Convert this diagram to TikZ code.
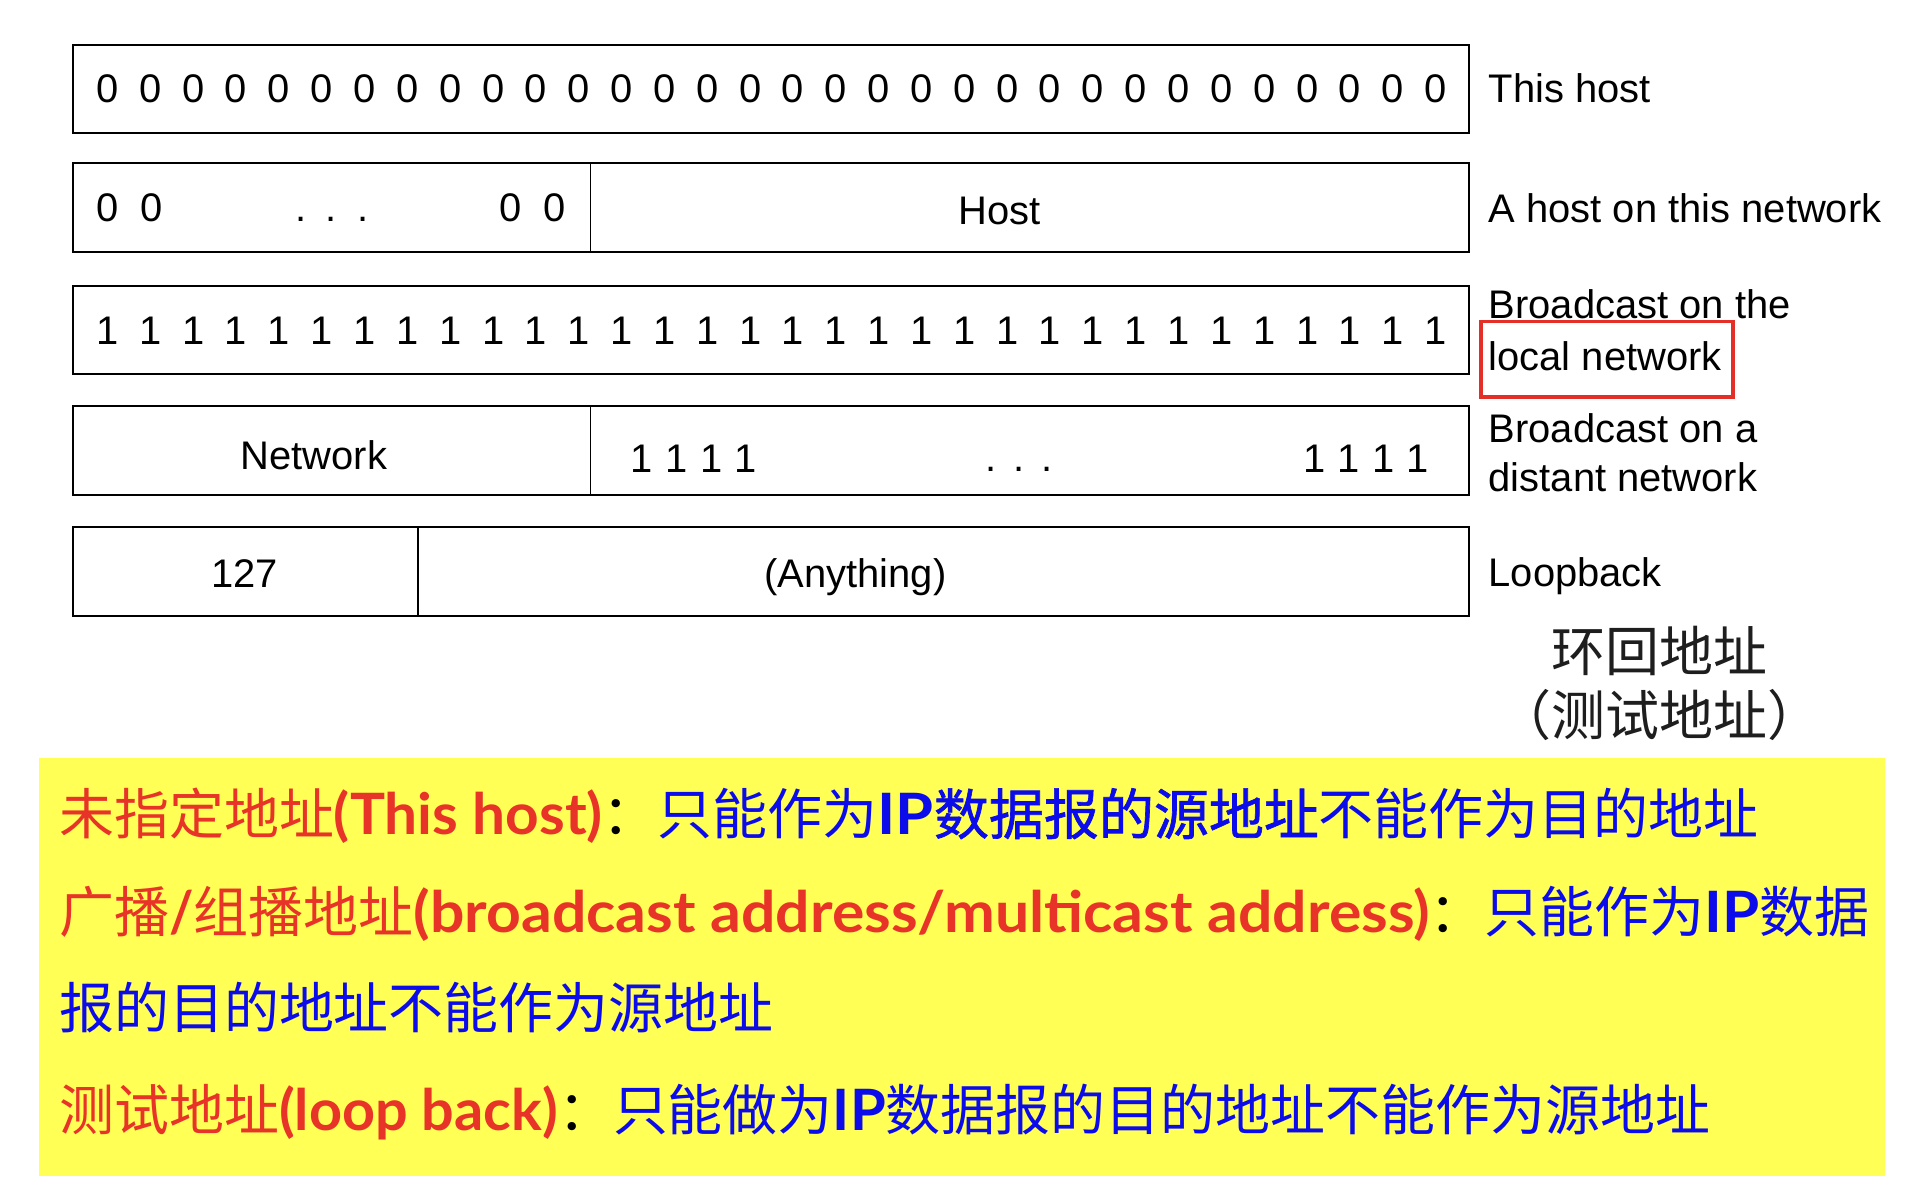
\documentclass[tikz,border=0pt]{standalone}
\usepackage{fontspec}
\setmainfont{Liberation Sans}
\newfontfamily\cjk{Noto Sans CJK SC}
\newfontfamily\cjksemi[FakeBold=1.2]{Noto Sans CJK SC}
\newfontfamily\lat{Lato}
\definecolor{hlred}{RGB}{232,52,40}
\definecolor{hlblue}{RGB}{12,12,235}
\definecolor{hlyellow}{RGB}{255,255,85}
\definecolor{boxred}{RGB}{228,46,40}
\definecolor{inkgray}{RGB}{30,30,30}
\newcommand{\redlat}[2]{{\color{hlred}\resizebox{#1}{\height}{\lat\bfseries\fontsize{28}{32}\selectfont #2}}}
\newcommand{\ipbold}[1]{{\color{hlblue}\resizebox{#1}{\height}{\lat\bfseries\fontsize{28}{32}\selectfont IP}}}
\newcommand{\blk}[1]{{\color{black}#1}}
\begin{document}
\begin{tikzpicture}[x=0.6pt,y=-0.6pt,
  field/.style={draw=black, line width=1pt},
  sep/.style={draw=black, line width=0.6pt},
  bit/.style={font=\fontsize{19.6}{22}\selectfont, anchor=base, inner sep=0pt},
  lbl/.style={font=\fontsize{19.6}{22}\selectfont, anchor=base west, inner sep=0pt},
  cjkline/.style={font=\cjk\fontsize{27}{32}\selectfont, anchor=base west, inner sep=0pt},
  cjknote/.style={font=\cjk\fontsize{26.5}{30}\selectfont, text=inkgray, inner sep=0pt},
]
\useasboundingbox (0,0) rectangle (1568,980);
\fill[white] (0,0) rectangle (1568,980);

% Row 1: This host
\draw[field] (60,37) rectangle (1202,109);
\foreach \i in {0,...,31} \node[bit] (z\i) at ({88+\i*35.06},84) {0};

% Row 2: A host on this network
\draw[field] (60,133) rectangle (1202,206);
\draw[sep] (483,133) -- (483,206);
\node[bit] (h0a) at (88,181) {0};
\node[bit] (h0b) at (124,181) {0};
\node[bit] (hd1) at (246,181) {.};
\node[bit] (hd2) at (271,181) {.};
\node[bit] (hd3) at (297,181) {.};
\node[bit] (h0c) at (418,181) {0};
\node[bit] (h0d) at (454,181) {0};
\node[bit] (host) at (818,184) {Host};

% Row 3: broadcast local
\draw[field] (60,234) rectangle (1202,306);
\foreach \i in {0,...,31} \node[bit] (o\i) at ({88+\i*35.06},282) {1};

% Row 4: broadcast distant
\draw[field] (60,332) rectangle (1202,405);
\draw[sep] (483,332) -- (483,405);
\node[bit] (net) at (257,384) {Network};
\foreach \i in {0,...,3} \node[bit] (nl\i) at ({525+\i*28.5},387) {1};
\node[bit] (nd1) at (811,386) {.};
\node[bit] (nd2) at (834,386) {.};
\node[bit] (nd3) at (857,386) {.};
\foreach \i in {0,...,3} \node[bit] (nr\i) at ({1076+\i*28},387) {1};

% Row 5: loopback
\draw[field] (60,431) rectangle (1202,504);
\draw[sep] (342,431) -- (342,504);
\node[bit] (lp127) at (200,481) {127};
\node[bit] (lpany) at (700,481) {(Anything)};

% Right labels
\node[lbl] (l1) at (1218,84) {This host};
\node[lbl] (l2) at (1218,182) {A host on this network};
\node[lbl] (l3a) at (1218,261) {Broadcast on the};
\node[lbl] (l3b) at (1218,303) {local network};
\node[lbl] (l4a) at (1218,362) {Broadcast on a};
\node[lbl] (l4b) at (1218,402) {distant network};
\node[lbl] (l5) at (1218,480) {Loopback};
\draw[boxred, line width=1.8pt] (1212,263) rectangle (1418,325);

\node[cjknote] (hh1) at (1358,533) {环回地址};
\node[cjknote] (hh2) at (1358,585) {（测试地址）};

% Yellow note
\fill[hlyellow] (32,620) rectangle (1543,962);
\node[cjkline] (y1) at (48,683) {{\color{hlred}未指定地址}\redlat{132pt}{(This host)}\blk{：}{\color{hlblue}只能作为}\ipbold{27.6pt}{\color{hlblue}\cjksemi 数据报的源地址}{\color{hlblue}不能作为目的地址}};
\node[cjkline] (y2) at (48,763) {{\color{hlred}广播}\redlat{12pt}{/}{\color{hlred}组播地址}\redlat{499pt}{(broadcast address/multicast address)}\blk{：}{\color{hlblue}只能作为}\ipbold{27pt}{\color{hlblue}数据}};
\node[cjkline] (y3) at (48,842) {{\color{hlblue}报的目的地址不能作为源地址}};
\node[cjkline] (y4) at (48,925) {{\color{hlred}测试地址}\redlat{137pt}{(loop back)}\blk{：}{\color{hlblue}只能做为}\ipbold{26pt}{\color{hlblue}数据报的目的地址不能作为源地址}};
\end{tikzpicture}
\end{document}
